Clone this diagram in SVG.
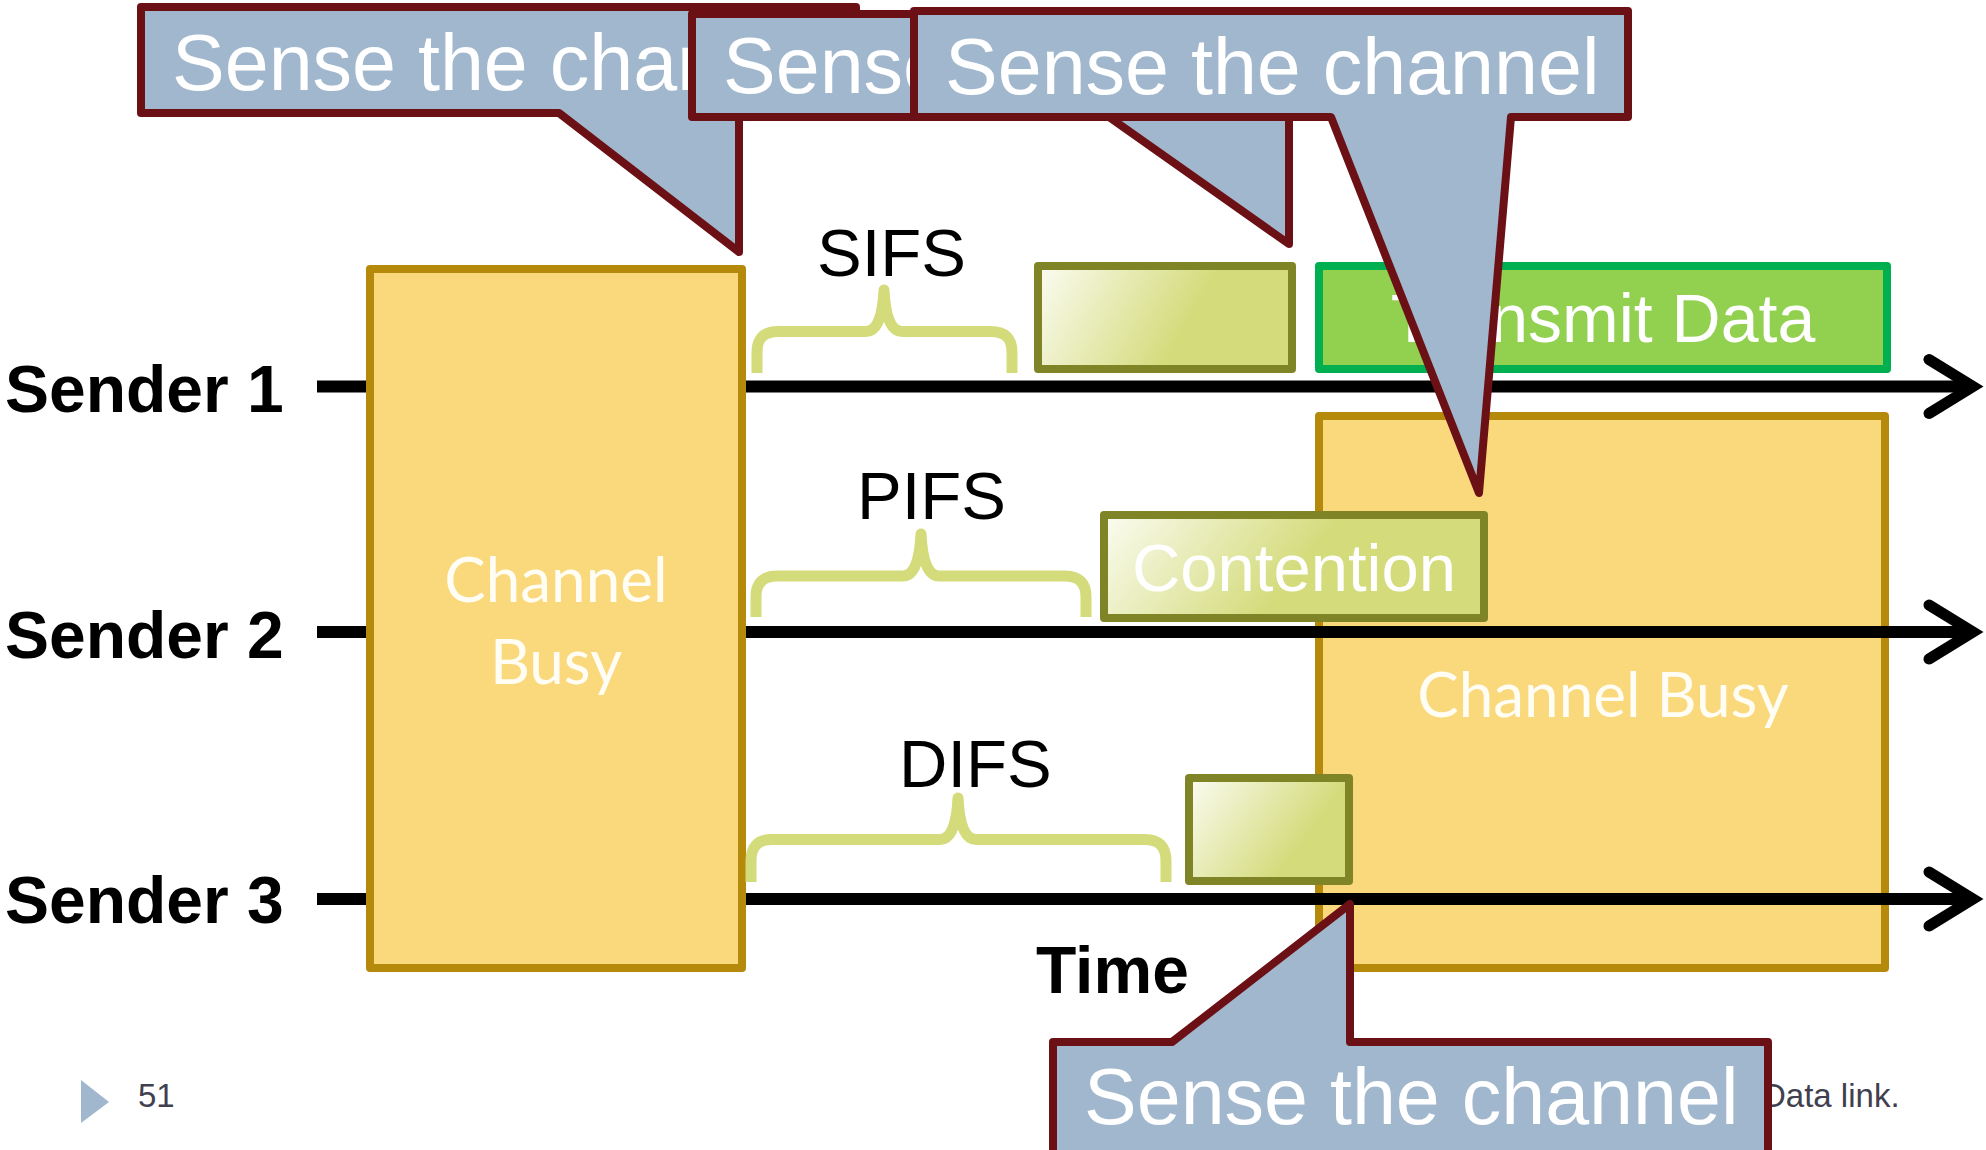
<svg xmlns="http://www.w3.org/2000/svg" width="1986" height="1150" viewBox="0 0 1986 1150">
  <defs>
    <style>
      .busy { fill: #F9D97C; stroke: #B58A0A; stroke-width: 8; stroke-linejoin: round; }
      .busy-text { font-family: Lato, "Open Sans", sans-serif; font-size: 62px; fill: #FFFDF4; text-anchor: middle; }
      .slot { stroke: #7F8427; stroke-width: 8; stroke-linejoin: round; }
      .sender { font-family: "Liberation Sans", Arial, sans-serif; font-weight: bold; font-size: 66px; fill: #000000; }
      .ifs { font-family: "Liberation Sans", Arial, sans-serif; font-size: 67px; fill: #000000; }
      .brace { fill: none; stroke: #D4DB7B; stroke-width: 11; stroke-linejoin: round; stroke-linecap: butt; }
      .timeline { stroke: #000000; stroke-width: 12; fill: none; marker-end: url(#openArrow); }
      .callout { fill: #A1B7CD; stroke: #6B1015; stroke-width: 8; stroke-linejoin: round; }
      .callout-text { font-family: "Liberation Sans", Arial, sans-serif; font-size: 79px; fill: #FFFFFF; }
      .footer { font-family: "Liberation Sans", Arial, sans-serif; font-size: 33px; fill: #40404F; }
    </style>
    <marker id="openArrow" markerUnits="userSpaceOnUse" markerWidth="80" markerHeight="80" viewBox="-60 -40 80 80" refX="0" refY="0" orient="auto" overflow="visible">
      <path d="M-44,-27 L0,0 L-44,27" fill="none" stroke="#000000" stroke-width="11" stroke-linejoin="miter" stroke-linecap="round"/>
    </marker>
    <linearGradient id="gradSifs" gradientUnits="userSpaceOnUse" x1="1038" y1="266" x2="1177" y2="343">
      <stop offset="0" stop-color="#FBFCF2"/>
      <stop offset="1" stop-color="#D4DB7B"/>
    </linearGradient>
    <linearGradient id="gradPifs" gradientUnits="userSpaceOnUse" x1="1104" y1="515" x2="1249" y2="632">
      <stop offset="0" stop-color="#FBFCF2"/>
      <stop offset="1" stop-color="#D4DB7B"/>
    </linearGradient>
    <linearGradient id="gradDifs" gradientUnits="userSpaceOnUse" x1="1189" y1="778" x2="1293" y2="856">
      <stop offset="0" stop-color="#FBFCF2"/>
      <stop offset="1" stop-color="#D4DB7B"/>
    </linearGradient>
    <!-- visible part of each stacked callout's label -->
    <clipPath id="clipCallout1">
      <rect x="137" y="0" width="551" height="120"/>
    </clipPath>
    <clipPath id="clipCallout2">
      <rect x="688" y="0" width="222" height="125"/>
    </clipPath>
  </defs>

  <rect width="1986" height="1150" fill="#FFFFFF"/>

  <!-- busy period seen by senders 2 and 3 (lies under the time lines) -->
  <g id="busy-right">
    <rect class="busy" x="1319" y="416" width="566" height="552"/>
    <text class="busy-text" x="1603" y="717" font-size="63">Channel Busy</text>
  </g>

  <!-- time axes of the three senders -->
  <g id="connectors">
    <line class="timeline" x1="317" y1="386.5" x2="1973" y2="386.5"/>
    <line class="timeline" x1="317" y1="632" x2="1973" y2="632"/>
    <line class="timeline" x1="317" y1="899" x2="1973" y2="899"/>
  </g>

  <!-- initial busy period -->
  <g id="busy-left">
    <rect class="busy" x="370" y="269" width="372" height="699"/>
    <text class="busy-text" x="556" y="602">Channel</text>
    <text class="busy-text" x="556" y="684">Busy</text>
  </g>

  <g id="sender-labels">
    <text class="sender" x="5" y="412">Sender 1</text>
    <text class="sender" x="5" y="658">Sender 2</text>
    <text class="sender" x="5" y="923">Sender 3</text>
  </g>

  <!-- SIFS on sender 1 -->
  <g id="sifs">
    <text class="ifs" x="817" y="276">SIFS</text>
    <path class="brace" d="M757,373 V352 Q757,331.5 778,331.5 H866 Q882,331.5 884,290 Q886,331.5 902,331.5 H991 Q1012,331.5 1012,352 V373"/>
  </g>
  <g id="slot-sender1">
    <rect class="slot" x="1038" y="266" width="254" height="103" fill="url(#gradSifs)"/>
  </g>
  <g id="transmit-data">
    <rect x="1319" y="266" width="568" height="103" fill="#92D050" stroke="#00B050" stroke-width="8" stroke-linejoin="round"/>
    <text x="1603" y="342" font-family="'Liberation Sans', Arial, sans-serif" font-size="68" fill="#FFFFFF" text-anchor="middle">Transmit Data</text>
  </g>

  <!-- PIFS on sender 2 -->
  <g id="pifs">
    <text class="ifs" x="857" y="519">PIFS</text>
    <path class="brace" d="M756,617 V597 Q756,576 777,576 H903 Q919,576 921,534 Q923,576 939,576 H1065 Q1086,576 1086,597 V617"/>
  </g>
  <g id="contention">
    <rect class="slot" x="1104" y="515" width="380" height="103" fill="url(#gradPifs)"/>
    <text x="1294" y="591" font-family="'Liberation Sans', Arial, sans-serif" font-size="67" fill="#FFFFFF" text-anchor="middle">Contention</text>
  </g>

  <!-- DIFS on sender 3 -->
  <g id="difs">
    <text class="ifs" x="899" y="787">DIFS</text>
    <path class="brace" d="M751,882 V861 Q751,839.5 772,839.5 H940 Q956,839.5 958,798 Q960,839.5 976,839.5 H1145 Q1166,839.5 1166,861 V882"/>
  </g>
  <g id="slot-sender3">
    <rect class="slot" x="1189" y="778" width="160" height="103" fill="url(#gradDifs)"/>
  </g>

  <g id="time-label">
    <text class="sender" x="1036" y="993">Time</text>
  </g>

  <!-- slide footer -->
  <g id="footer">
    <polygon points="81,1080 109,1102 81,1123" fill="#A0B7CD"/>
    <text class="footer" x="138" y="1107" font-size="32">51</text>
    <text class="footer" x="1762" y="1107">Data link.</text>
  </g>

  <!-- "Sense the channel" callouts, stacked left to right -->
  <g id="callout-1">
    <path class="callout" d="M141,7 H856 V113 H739 V252 L559,113 H141 Z"/>
    <text class="callout-text" x="172" y="90" clip-path="url(#clipCallout1)">Sense the channel</text>
  </g>
  <g id="callout-2">
    <path class="callout" d="M692,14 H1405 V117 H1289 V244 L1109,117 H692 Z"/>
    <text class="callout-text" x="723" y="93" clip-path="url(#clipCallout2)">Sense the channel</text>
  </g>
  <g id="callout-3">
    <path class="callout" d="M914,11 H1628 V117 H1511 L1479,493 L1331,117 H914 Z"/>
    <text class="callout-text" x="945" y="94">Sense the channel</text>
  </g>
  <g id="callout-4">
    <path class="callout" d="M1053,1042 H1172 L1350,904 V1042 H1768 V1170 H1053 Z"/>
    <text class="callout-text" x="1084" y="1124">Sense the channel</text>
  </g>
</svg>
